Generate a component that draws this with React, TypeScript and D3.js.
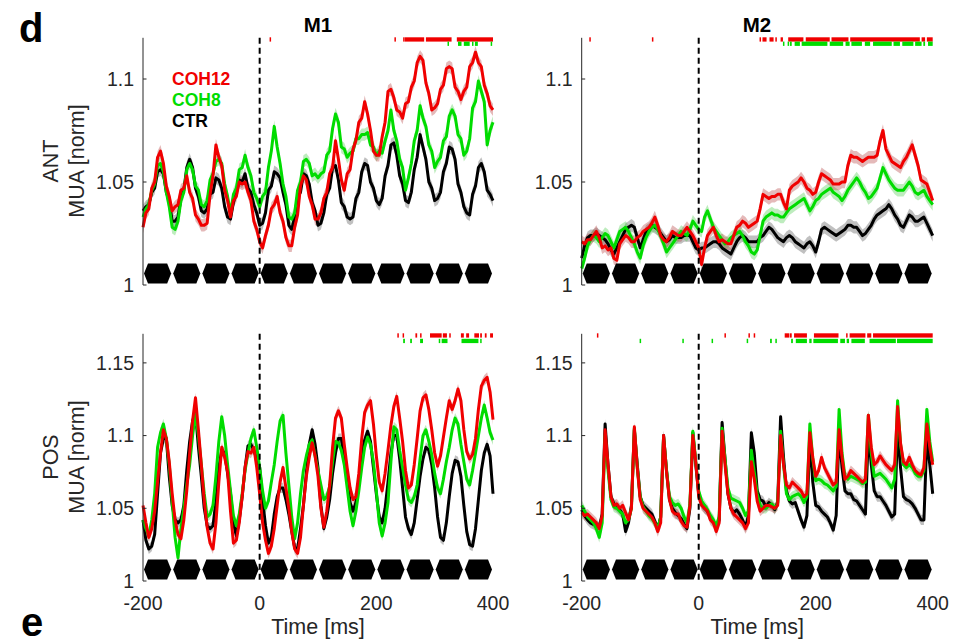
import React from "react";
import * as d3 from "d3";

// Sample grid (ms relative to target onset), 5 ms steps
const TIME = d3.range(-200, 401, 5);

// ---- M1, anterior electrodes ----
const M1_ANT_COH12 = [
  1.028, 1.035, 1.037, 1.047, 1.050, 1.062, 1.065, 1.059, 1.048, 1.043,
  1.036, 1.038, 1.039, 1.046, 1.047, 1.053, 1.045, 1.042, 1.034, 1.032,
  1.029, 1.029, 1.030, 1.044, 1.053, 1.068, 1.062, 1.058, 1.046, 1.041,
  1.033, 1.041, 1.043, 1.050, 1.049, 1.050, 1.045, 1.041, 1.031, 1.027,
  1.021, 1.018, 1.024, 1.029, 1.037, 1.039, 1.043, 1.035, 1.031, 1.023,
  1.019, 1.019, 1.028, 1.034, 1.048, 1.053, 1.051, 1.043, 1.039, 1.032,
  1.032, 1.035, 1.042, 1.045, 1.054, 1.057, 1.070, 1.061, 1.051, 1.046,
  1.054, 1.056, 1.066, 1.070, 1.079, 1.081, 1.089, 1.083, 1.075, 1.065,
  1.063, 1.063, 1.072, 1.079, 1.094, 1.095, 1.091, 1.085, 1.084, 1.081,
  1.088, 1.089, 1.096, 1.099, 1.108, 1.111, 1.109, 1.098, 1.093, 1.085,
  1.086, 1.088, 1.095, 1.097, 1.105, 1.106, 1.105, 1.096, 1.094, 1.090,
  1.094, 1.096, 1.106, 1.108, 1.113, 1.108, 1.106, 1.097, 1.093, 1.087,
  1.085,
];
const M1_ANT_COH8 = [
  1.033, 1.037, 1.039, 1.046, 1.049, 1.058, 1.059, 1.055, 1.045, 1.038,
  1.028, 1.027, 1.031, 1.041, 1.045, 1.056, 1.059, 1.056, 1.048, 1.046,
  1.039, 1.038, 1.041, 1.051, 1.054, 1.060, 1.061, 1.059, 1.049, 1.043,
  1.035, 1.044, 1.047, 1.056, 1.057, 1.063, 1.057, 1.053, 1.045, 1.042,
  1.038, 1.043, 1.045, 1.057, 1.065, 1.077, 1.067, 1.059, 1.049, 1.043,
  1.033, 1.032, 1.035, 1.046, 1.050, 1.060, 1.061, 1.059, 1.053, 1.054,
  1.052, 1.054, 1.055, 1.063, 1.065, 1.076, 1.083, 1.079, 1.067, 1.066,
  1.062, 1.064, 1.065, 1.071, 1.071, 1.073, 1.073, 1.074, 1.068, 1.067,
  1.063, 1.065, 1.064, 1.070, 1.075, 1.085, 1.075, 1.070, 1.061, 1.057,
  1.046, 1.052, 1.059, 1.070, 1.075, 1.087, 1.081, 1.077, 1.068, 1.065,
  1.057, 1.060, 1.062, 1.070, 1.072, 1.082, 1.085, 1.082, 1.073, 1.071,
  1.063, 1.065, 1.071, 1.086, 1.089, 1.099, 1.094, 1.089, 1.068, 1.075,
  1.079,
];
const M1_ANT_CTR = [
  1.036, 1.038, 1.039, 1.045, 1.047, 1.055, 1.056, 1.054, 1.045, 1.041,
  1.031, 1.031, 1.033, 1.042, 1.046, 1.057, 1.061, 1.057, 1.047, 1.043,
  1.036, 1.035, 1.037, 1.044, 1.045, 1.052, 1.051, 1.047, 1.038, 1.033,
  1.032, 1.040, 1.045, 1.051, 1.050, 1.054, 1.047, 1.045, 1.039, 1.035,
  1.029, 1.030, 1.035, 1.046, 1.048, 1.055, 1.054, 1.052, 1.045, 1.039,
  1.029, 1.027, 1.033, 1.043, 1.045, 1.054, 1.053, 1.049, 1.040, 1.036,
  1.029, 1.030, 1.035, 1.044, 1.047, 1.057, 1.058, 1.051, 1.040, 1.038,
  1.033, 1.032, 1.033, 1.042, 1.045, 1.055, 1.059, 1.058, 1.050, 1.047,
  1.041, 1.039, 1.042, 1.053, 1.058, 1.068, 1.069, 1.063, 1.053, 1.049,
  1.041, 1.040, 1.045, 1.056, 1.062, 1.073, 1.067, 1.061, 1.050, 1.047,
  1.041, 1.042, 1.045, 1.055, 1.059, 1.067, 1.066, 1.061, 1.049, 1.045,
  1.038, 1.035, 1.034, 1.044, 1.048, 1.057, 1.059, 1.055, 1.046, 1.044,
  1.041,
];

// ---- M2, anterior electrodes ----
const M2_ANT_COH12 = [
  1.021, 1.020, 1.022, 1.022, 1.024, 1.026, 1.023, 1.018, 1.019, 1.017,
  1.018, 1.013, 1.012, 1.020, 1.022, 1.024, 1.023, 1.021, 1.021, 1.023,
  1.024, 1.026, 1.027, 1.028, 1.030, 1.033, 1.029, 1.024, 1.022, 1.021,
  1.023, 1.026, 1.025, 1.024, 1.024, 1.026, 1.028, 1.026, 1.024, 1.021,
  1.018, 1.010, 1.018, 1.024, 1.026, 1.028, 1.024, 1.021, 1.022, 1.021,
  1.020, 1.020, 1.024, 1.028, 1.029, 1.031, 1.030, 1.028, 1.029, 1.030,
  1.031, 1.037, 1.044, 1.043, 1.042, 1.043, 1.043, 1.044, 1.044, 1.040,
  1.037, 1.046, 1.048, 1.049, 1.050, 1.052, 1.050, 1.047, 1.046, 1.044,
  1.045, 1.050, 1.054, 1.053, 1.052, 1.051, 1.049, 1.049, 1.049, 1.050,
  1.050, 1.058, 1.063, 1.062, 1.062, 1.061, 1.060, 1.061, 1.062, 1.062,
  1.062, 1.063, 1.070, 1.075, 1.066, 1.063, 1.060, 1.059, 1.058, 1.057,
  1.060, 1.062, 1.065, 1.068, 1.063, 1.058, 1.051, 1.050, 1.049, 1.045,
  1.041,
];
const M2_ANT_COH8 = [
  1.008, 1.013, 1.019, 1.022, 1.024, 1.023, 1.021, 1.023, 1.025, 1.024,
  1.021, 1.018, 1.022, 1.026, 1.027, 1.028, 1.026, 1.023, 1.020, 1.016,
  1.013, 1.019, 1.023, 1.026, 1.028, 1.029, 1.027, 1.024, 1.020, 1.016,
  1.018, 1.020, 1.022, 1.024, 1.026, 1.025, 1.024, 1.027, 1.031, 1.029,
  1.027, 1.026, 1.033, 1.036, 1.032, 1.028, 1.026, 1.024, 1.022, 1.020,
  1.021, 1.023, 1.024, 1.025, 1.026, 1.024, 1.021, 1.019, 1.016, 1.015,
  1.017, 1.024, 1.031, 1.033, 1.034, 1.035, 1.034, 1.034, 1.033, 1.033,
  1.035, 1.037, 1.038, 1.039, 1.040, 1.041, 1.042, 1.039, 1.036, 1.038,
  1.041, 1.042, 1.044, 1.045, 1.046, 1.047, 1.045, 1.044, 1.043, 1.041,
  1.043, 1.046, 1.048, 1.050, 1.052, 1.050, 1.047, 1.045, 1.042, 1.043,
  1.045, 1.047, 1.052, 1.057, 1.054, 1.051, 1.049, 1.047, 1.046, 1.046,
  1.046, 1.048, 1.050, 1.048, 1.045, 1.044, 1.045, 1.046, 1.043, 1.041,
  1.039,
];
const M2_ANT_CTR = [
  1.013, 1.019, 1.023, 1.024, 1.024, 1.025, 1.024, 1.023, 1.022, 1.020,
  1.017, 1.015, 1.018, 1.021, 1.024, 1.027, 1.028, 1.029, 1.028, 1.023,
  1.018, 1.022, 1.026, 1.027, 1.029, 1.028, 1.027, 1.025, 1.023, 1.021,
  1.022, 1.024, 1.023, 1.023, 1.023, 1.024, 1.024, 1.024, 1.021, 1.018,
  1.017, 1.018, 1.018, 1.019, 1.020, 1.021, 1.021, 1.020, 1.018, 1.017,
  1.016, 1.015, 1.018, 1.021, 1.023, 1.024, 1.023, 1.021, 1.021, 1.021,
  1.021, 1.023, 1.024, 1.026, 1.028, 1.027, 1.025, 1.023, 1.022, 1.021,
  1.023, 1.024, 1.023, 1.021, 1.020, 1.019, 1.018, 1.020, 1.021, 1.019,
  1.016, 1.021, 1.027, 1.028, 1.027, 1.026, 1.025, 1.024, 1.025, 1.026,
  1.027, 1.029, 1.029, 1.028, 1.028, 1.026, 1.024, 1.025, 1.027, 1.029,
  1.032, 1.034, 1.035, 1.036, 1.037, 1.039, 1.037, 1.034, 1.032, 1.029,
  1.028, 1.031, 1.034, 1.033, 1.031, 1.031, 1.032, 1.033, 1.030, 1.027,
  1.024,
];

// ---- M1, posterior electrodes ----
const M1_POS_COH12 = [
  1.052, 1.040, 1.030, 1.036, 1.048, 1.068, 1.088, 1.104, 1.098, 1.082,
  1.060, 1.042, 1.032, 1.029, 1.042, 1.062, 1.088, 1.110, 1.126, 1.104,
  1.080, 1.055, 1.037, 1.026, 1.022, 1.040, 1.068, 1.092, 1.085, 1.075,
  1.048, 1.026, 1.028, 1.040, 1.058, 1.078, 1.089, 1.088, 1.092, 1.078,
  1.060, 1.040, 1.028, 1.019, 1.024, 1.036, 1.052, 1.068, 1.078, 1.064,
  1.050, 1.034, 1.022, 1.019, 1.030, 1.052, 1.072, 1.085, 1.095, 1.086,
  1.072, 1.050, 1.037, 1.048, 1.066, 1.092, 1.112, 1.117, 1.112, 1.094,
  1.078, 1.064, 1.056, 1.058, 1.074, 1.098, 1.116, 1.121, 1.124, 1.108,
  1.086, 1.068, 1.062, 1.074, 1.090, 1.107, 1.120, 1.127, 1.112, 1.096,
  1.076, 1.064, 1.066, 1.080, 1.098, 1.117, 1.126, 1.128, 1.118, 1.104,
  1.088, 1.079, 1.086, 1.099, 1.112, 1.124, 1.118, 1.124, 1.132, 1.124,
  1.104, 1.089, 1.084, 1.087, 1.098, 1.118, 1.134, 1.138, 1.140, 1.130,
  1.111,
];
const M1_POS_COH8 = [
  1.042, 1.036, 1.031, 1.042, 1.060, 1.092, 1.102, 1.108, 1.098, 1.080,
  1.055, 1.030, 1.016, 1.036, 1.050, 1.066, 1.080, 1.100, 1.115, 1.100,
  1.080, 1.060, 1.044, 1.046, 1.052, 1.072, 1.096, 1.113, 1.100, 1.080,
  1.062, 1.045, 1.038, 1.046, 1.060, 1.076, 1.088, 1.098, 1.104, 1.092,
  1.078, 1.062, 1.050, 1.055, 1.068, 1.080, 1.096, 1.110, 1.114, 1.088,
  1.066, 1.044, 1.029, 1.040, 1.060, 1.076, 1.086, 1.094, 1.097, 1.086,
  1.076, 1.066, 1.056, 1.058, 1.065, 1.082, 1.096, 1.095, 1.090, 1.080,
  1.064, 1.048, 1.038, 1.048, 1.062, 1.078, 1.092, 1.099, 1.094, 1.082,
  1.062, 1.040, 1.031, 1.040, 1.054, 1.082, 1.106, 1.104, 1.090, 1.078,
  1.066, 1.056, 1.054, 1.058, 1.066, 1.084, 1.100, 1.104, 1.096, 1.087,
  1.074, 1.064, 1.060, 1.070, 1.082, 1.092, 1.104, 1.112, 1.108, 1.094,
  1.082, 1.070, 1.066, 1.076, 1.088, 1.100, 1.112, 1.121, 1.112, 1.102,
  1.097,
];
const M1_POS_CTR = [
  1.042, 1.028, 1.022, 1.024, 1.032, 1.060, 1.088, 1.098, 1.098, 1.072,
  1.052, 1.042, 1.040, 1.042, 1.052, 1.076, 1.096, 1.110, 1.116, 1.092,
  1.072, 1.050, 1.038, 1.036, 1.038, 1.055, 1.078, 1.090, 1.088, 1.074,
  1.060, 1.040, 1.031, 1.042, 1.058, 1.078, 1.093, 1.094, 1.090, 1.084,
  1.078, 1.056, 1.038, 1.026, 1.030, 1.046, 1.058, 1.064, 1.064, 1.056,
  1.046, 1.034, 1.023, 1.022, 1.036, 1.052, 1.074, 1.094, 1.104, 1.094,
  1.078, 1.052, 1.036, 1.044, 1.056, 1.074, 1.088, 1.098, 1.098, 1.084,
  1.070, 1.054, 1.048, 1.054, 1.068, 1.088, 1.097, 1.103, 1.096, 1.078,
  1.060, 1.044, 1.040, 1.050, 1.068, 1.088, 1.100, 1.100, 1.084, 1.064,
  1.044, 1.036, 1.032, 1.040, 1.056, 1.072, 1.084, 1.092, 1.090, 1.080,
  1.064, 1.044, 1.030, 1.028, 1.040, 1.058, 1.074, 1.083, 1.082, 1.072,
  1.052, 1.034, 1.025, 1.024, 1.036, 1.056, 1.076, 1.088, 1.094, 1.086,
  1.060,
];

// ---- M2, posterior electrodes ----
const M2_POS_COH12 = [
  1.047, 1.045, 1.046, 1.044, 1.042, 1.040, 1.036, 1.045, 1.104, 1.080,
  1.058, 1.052, 1.053, 1.050, 1.052, 1.047, 1.042, 1.050, 1.106, 1.078,
  1.056, 1.050, 1.048, 1.046, 1.044, 1.040, 1.034, 1.040, 1.100, 1.075,
  1.056, 1.048, 1.046, 1.046, 1.041, 1.038, 1.037, 1.052, 1.100, 1.082,
  1.058, 1.052, 1.050, 1.048, 1.042, 1.040, 1.034, 1.040, 1.103, 1.080,
  1.060, 1.050, 1.046, 1.044, 1.042, 1.040, 1.036, 1.040, 1.082, 1.070,
  1.055, 1.048, 1.050, 1.052, 1.052, 1.051, 1.050, 1.052, 1.100, 1.080,
  1.066, 1.064, 1.068, 1.066, 1.064, 1.062, 1.058, 1.060, 1.102, 1.085,
  1.072, 1.076, 1.085, 1.078, 1.074, 1.070, 1.066, 1.068, 1.104, 1.085,
  1.070, 1.072, 1.076, 1.074, 1.072, 1.070, 1.068, 1.070, 1.114, 1.092,
  1.080, 1.082, 1.086, 1.083, 1.080, 1.078, 1.076, 1.080, 1.120, 1.095,
  1.082, 1.080, 1.085, 1.080, 1.076, 1.074, 1.073, 1.078, 1.108, 1.092,
  1.080,
];
const M2_POS_COH8 = [
  1.052, 1.048, 1.044, 1.042, 1.040, 1.036, 1.030, 1.040, 1.100, 1.076,
  1.056, 1.051, 1.050, 1.048, 1.046, 1.040, 1.042, 1.050, 1.105, 1.078,
  1.058, 1.051, 1.048, 1.045, 1.043, 1.040, 1.036, 1.044, 1.099, 1.076,
  1.058, 1.054, 1.052, 1.053, 1.050, 1.044, 1.040, 1.053, 1.103, 1.082,
  1.062, 1.055, 1.052, 1.049, 1.045, 1.042, 1.038, 1.044, 1.105, 1.084,
  1.064, 1.057, 1.056, 1.055, 1.054, 1.050, 1.045, 1.048, 1.090, 1.075,
  1.060, 1.052, 1.050, 1.050, 1.052, 1.053, 1.050, 1.053, 1.103, 1.080,
  1.060, 1.056, 1.058, 1.059, 1.060, 1.058, 1.054, 1.058, 1.108, 1.084,
  1.069, 1.070, 1.069, 1.067, 1.066, 1.064, 1.062, 1.065, 1.118, 1.088,
  1.072, 1.070, 1.072, 1.071, 1.070, 1.069, 1.067, 1.068, 1.114, 1.088,
  1.072, 1.073, 1.074, 1.072, 1.070, 1.067, 1.064, 1.070, 1.124, 1.094,
  1.080, 1.078, 1.080, 1.078, 1.074, 1.072, 1.072, 1.076, 1.118, 1.096,
  1.082,
];
const M2_POS_CTR = [
  1.049, 1.045, 1.042, 1.040, 1.039, 1.038, 1.037, 1.046, 1.108, 1.080,
  1.058, 1.053, 1.051, 1.049, 1.046, 1.034, 1.040, 1.052, 1.104, 1.080,
  1.058, 1.052, 1.050, 1.048, 1.046, 1.041, 1.036, 1.044, 1.100, 1.076,
  1.056, 1.050, 1.047, 1.045, 1.043, 1.039, 1.036, 1.050, 1.102, 1.080,
  1.060, 1.053, 1.050, 1.048, 1.044, 1.041, 1.036, 1.042, 1.109, 1.084,
  1.060, 1.050, 1.047, 1.049, 1.046, 1.042, 1.037, 1.045, 1.102, 1.088,
  1.062, 1.056, 1.055, 1.051, 1.054, 1.052, 1.049, 1.054, 1.113, 1.085,
  1.062, 1.055, 1.053, 1.054, 1.048, 1.042, 1.037, 1.045, 1.099, 1.068,
  1.052, 1.051, 1.048, 1.046, 1.044, 1.040, 1.035, 1.045, 1.103, 1.078,
  1.062, 1.060, 1.060, 1.056, 1.055, 1.052, 1.049, 1.046, 1.102, 1.080,
  1.062, 1.058, 1.058, 1.055, 1.052, 1.048, 1.044, 1.046, 1.105, 1.078,
  1.058, 1.056, 1.055, 1.053, 1.050, 1.046, 1.042, 1.042, 1.098, 1.080,
  1.060,
];

// Standard error half-widths of the shaded bands
const SEM_ANT = 0.003;
const SEM_POS = 0.0035;

// Stimulus frames (onset, ms) and their duration
const STIM_ONSETS = [-200, -150, -100, -50, 0, 50, 100, 150, 200, 250, 300, 350];
const STIM_DURATION = 50;

// Significant time windows [start, end] in ms (COH12 vs CTR, COH8 vs CTR)
const SIG_M1_ANT_COH12 = [[17, 19], [231, 233], [246, 248], [249, 282], [285, 329], [338, 400]];
const SIG_M1_ANT_COH8 = [[322, 324], [340, 346], [350, 360], [364, 366], [369, 374], [396, 398]];
const SIG_M2_ANT_COH12 = [
  [-187, -185], [-80, -78], [104, 106], [109, 116], [121, 128], [131, 133], [140, 144],
  [153, 179], [183, 224], [227, 256], [259, 378], [381, 387], [390, 400],
];
const SIG_M2_ANT_COH8 = [
  [144, 146], [152, 154], [156, 159], [164, 173], [176, 220], [224, 247], [251, 258],
  [261, 279], [284, 293], [298, 330], [333, 344], [348, 367], [370, 381], [384, 387], [392, 400],
];
const SIG_M1_POS_COH12 = [
  [236, 237], [245, 246], [267, 270], [275, 277], [292, 312], [314, 321], [325, 327],
  [345, 350], [354, 359], [368, 376], [378, 381], [386, 389], [395, 400],
];
const SIG_M1_POS_COH8 = [[246, 249], [258, 261], [275, 280], [307, 309], [312, 322], [346, 375], [378, 380]];
const SIG_M2_POS_COH12 = [
  [-174, -172], [44, 46], [85, 87], [94, 96], [147, 155], [156, 159], [163, 185],
  [197, 239], [252, 254], [258, 285], [288, 295], [298, 400],
];
const SIG_M2_POS_COH8 = [
  [-101, -99], [-28, -26], [22, 24], [82, 84], [122, 125], [131, 133], [158, 161],
  [166, 185], [189, 193], [196, 238], [242, 250], [253, 257], [261, 284], [292, 337], [339, 400],
];

// Axis ticks
const ANT_TICKS = [1, 1.05, 1.1];
const POS_TICKS = [1, 1.05, 1.1, 1.15];
const TIME_TICKS = [-200, 0, 200, 400];
const ANT_DOMAIN = [1, 1.12];
const POS_DOMAIN = [1, 1.17];

const CONDITIONS = ["COH12", "COH8", "CTR"];

const FONT = "'Liberation Sans', Arial, Helvetica, sans-serif";
const AXIS_COLOR = "#262626";
const LINE_COLOR: Record<string, string> = { COH12: "#f00000", COH8: "#00dc00", CTR: "#000000" };
const BAND_COLOR: Record<string, string> = {
  COH12: "rgba(185,70,70,0.38)",
  COH8: "rgba(70,200,70,0.35)",
  CTR: "rgba(60,60,60,0.32)",
};

type PanelProps = {
  xRange: [number, number];
  yRange: [number, number];
  domain: number[];
  ticks: number[];
  sem: number;
  series: Record<string, number[]>;
  sigRed: number[][];
  sigGreen: number[][];
  showTime: boolean;
  sigGreenOffset: number;
};

function Panel({ xRange, yRange, domain, ticks, sem, series, sigRed, sigGreen, showTime, sigGreenOffset }: PanelProps) {
  const x = d3.scaleLinear().domain([-200, 400]).range(xRange);
  const y = d3.scaleLinear().domain(domain).range(yRange);
  const [bottom, top] = yRange;
  const left = xRange[0];

  const line = d3
    .line<number>()
    .x((_, i) => x(TIME[i]))
    .y((d) => y(d));
  const area = d3
    .area<number>()
    .x((_, i) => x(TIME[i]))
    .y0((d) => y(d - sem))
    .y1((d) => y(d + sem));

  const order = ["CTR", "COH8", "COH12"];
  const hexH = 20;
  const hexTop = bottom - 21.5;
  const hexMid = hexTop + hexH / 2;

  return (
    <g>
      {order.map((k) => (
        <path key={"b" + k} d={area(series[k]) || ""} fill={BAND_COLOR[k]} stroke="none" />
      ))}
      {order.map((k) => (
        <path
          key={"l" + k}
          d={line(series[k]) || ""}
          fill="none"
          stroke={LINE_COLOR[k]}
          strokeWidth={3}
          strokeLinejoin="round"
        />
      ))}
      {STIM_ONSETS.map((t0) => {
        const x0 = x(t0) + 1;
        const x1 = x(t0 + STIM_DURATION) - 1;
        const inset = 4;
        const pts = [
          [x0, hexMid],
          [x0 + inset, hexTop],
          [x1 - inset, hexTop],
          [x1, hexMid],
          [x1 - inset, hexTop + hexH],
          [x0 + inset, hexTop + hexH],
        ];
        return <polygon key={t0} points={pts.map((p) => p.join(",")).join(" ")} fill="#000" />;
      })}
      <line
        x1={x(0)}
        x2={x(0)}
        y1={top}
        y2={bottom}
        stroke="#000"
        strokeWidth={2}
        strokeDasharray="6,4"
      />
      {sigRed.map(([s, e], i) => (
        <rect
          key={"sr" + i}
          x={x(s)}
          width={Math.max(1.5, x(e) - x(s))}
          y={top - 0.5}
          height={4.3}
          fill={LINE_COLOR.COH12}
        />
      ))}
      {sigGreen.map(([s, e], i) => (
        <rect
          key={"sg" + i}
          x={x(s)}
          width={Math.max(1.5, x(e) - x(s))}
          y={top + sigGreenOffset}
          height={4.3}
          fill={LINE_COLOR.COH8}
        />
      ))}
      <line x1={left} x2={left} y1={top} y2={bottom} stroke={AXIS_COLOR} strokeWidth={1} />
      {ticks.map((t) => (
        <g key={t}>
          <line x1={left} x2={left + 3.5} y1={y(t)} y2={y(t)} stroke={AXIS_COLOR} strokeWidth={1} />
          <text
            x={left - 9}
            y={y(t)}
            dy="0.35em"
            textAnchor="end"
            fontSize={19.5}
            fontFamily={FONT}
            fill={AXIS_COLOR}
          >
            {d3.format("~g")(t)}
          </text>
        </g>
      ))}
      {showTime &&
        TIME_TICKS.map((t) => (
          <text key={t} x={x(t)} y={610} textAnchor="middle" fontSize={19.5} fontFamily={FONT} fill={AXIS_COLOR}>
            {t}
          </text>
        ))}
      {showTime && (
        <text x={(xRange[0] + xRange[1]) / 2} y={634} textAnchor="middle" fontSize={21.5} fontFamily={FONT} fill={AXIS_COLOR}>
          Time [ms]
        </text>
      )}
    </g>
  );
}

const LEFT_X: [number, number] = [143, 493];
const RIGHT_X: [number, number] = [581.7, 932.7];
const ANT_Y: [number, number] = [285, 37.8];
const POS_Y: [number, number] = [581, 333.8];

function YLabel({ x, y, lines }: { x: number[]; y: number; lines: string[] }) {
  return (
    <g>
      {lines.map((s, i) => (
        <text
          key={s}
          transform={`translate(${x[i]},${y}) rotate(-90)`}
          textAnchor="middle"
          fontSize={21.5}
          fontFamily={FONT}
          fill={AXIS_COLOR}
        >
          {s}
        </text>
      ))}
    </g>
  );
}

export default function App() {
  return (
    <svg width={970} height={644} style={{ position: "absolute", left: 0, top: 0, background: "#fff" }}>
      <rect width={970} height={644} fill="#fff" />
      <Panel
        xRange={LEFT_X}
        yRange={ANT_Y}
        domain={ANT_DOMAIN}
        ticks={ANT_TICKS}
        sem={SEM_ANT}
        series={{ COH12: M1_ANT_COH12, COH8: M1_ANT_COH8, CTR: M1_ANT_CTR }}
        sigRed={SIG_M1_ANT_COH12}
        sigGreen={SIG_M1_ANT_COH8}
        showTime={false}
        sigGreenOffset={3.8}
      />
      <Panel
        xRange={RIGHT_X}
        yRange={ANT_Y}
        domain={ANT_DOMAIN}
        ticks={ANT_TICKS}
        sem={SEM_ANT}
        series={{ COH12: M2_ANT_COH12, COH8: M2_ANT_COH8, CTR: M2_ANT_CTR }}
        sigRed={SIG_M2_ANT_COH12}
        sigGreen={SIG_M2_ANT_COH8}
        showTime={false}
        sigGreenOffset={3.8}
      />
      <Panel
        xRange={LEFT_X}
        yRange={POS_Y}
        domain={POS_DOMAIN}
        ticks={POS_TICKS}
        sem={SEM_POS}
        series={{ COH12: M1_POS_COH12, COH8: M1_POS_COH8, CTR: M1_POS_CTR }}
        sigRed={SIG_M1_POS_COH12}
        sigGreen={SIG_M1_POS_COH8}
        showTime={true}
        sigGreenOffset={5}
      />
      <Panel
        xRange={RIGHT_X}
        yRange={POS_Y}
        domain={POS_DOMAIN}
        ticks={POS_TICKS}
        sem={SEM_POS}
        series={{ COH12: M2_POS_COH12, COH8: M2_POS_COH8, CTR: M2_POS_CTR }}
        sigRed={SIG_M2_POS_COH12}
        sigGreen={SIG_M2_POS_COH8}
        showTime={true}
        sigGreenOffset={5}
      />

      {/* Column titles */}
      <text x={318} y={32} textAnchor="middle" fontSize={20.5} fontWeight="bold" fontFamily={FONT} fill="#000">
        M1
      </text>
      <text x={757} y={32} textAnchor="middle" fontSize={20.5} fontWeight="bold" fontFamily={FONT} fill="#000">
        M2
      </text>

      {/* Panel letters */}
      <text x={19} y={42} fontSize={40} fontWeight="bold" fontFamily={FONT} fill="#000">
        d
      </text>
      <text x={21} y={636} fontSize={40} fontWeight="bold" fontFamily={FONT} fill="#000">
        e
      </text>

      {/* Row labels */}
      <YLabel x={[58, 84]} y={161} lines={["ANT", "MUA [norm]"]} />
      <YLabel x={[58, 84]} y={457} lines={["POS", "MUA [norm]"]} />

      {/* Legend */}
      {CONDITIONS.map((c, i) => (
        <text
          key={c}
          x={172}
          y={85 + i * 21}
          fontSize={17.5}
          fontWeight="bold"
          fontFamily={FONT}
          fill={LINE_COLOR[c]}
        >
          {c}
        </text>
      ))}
    </svg>
  );
}
